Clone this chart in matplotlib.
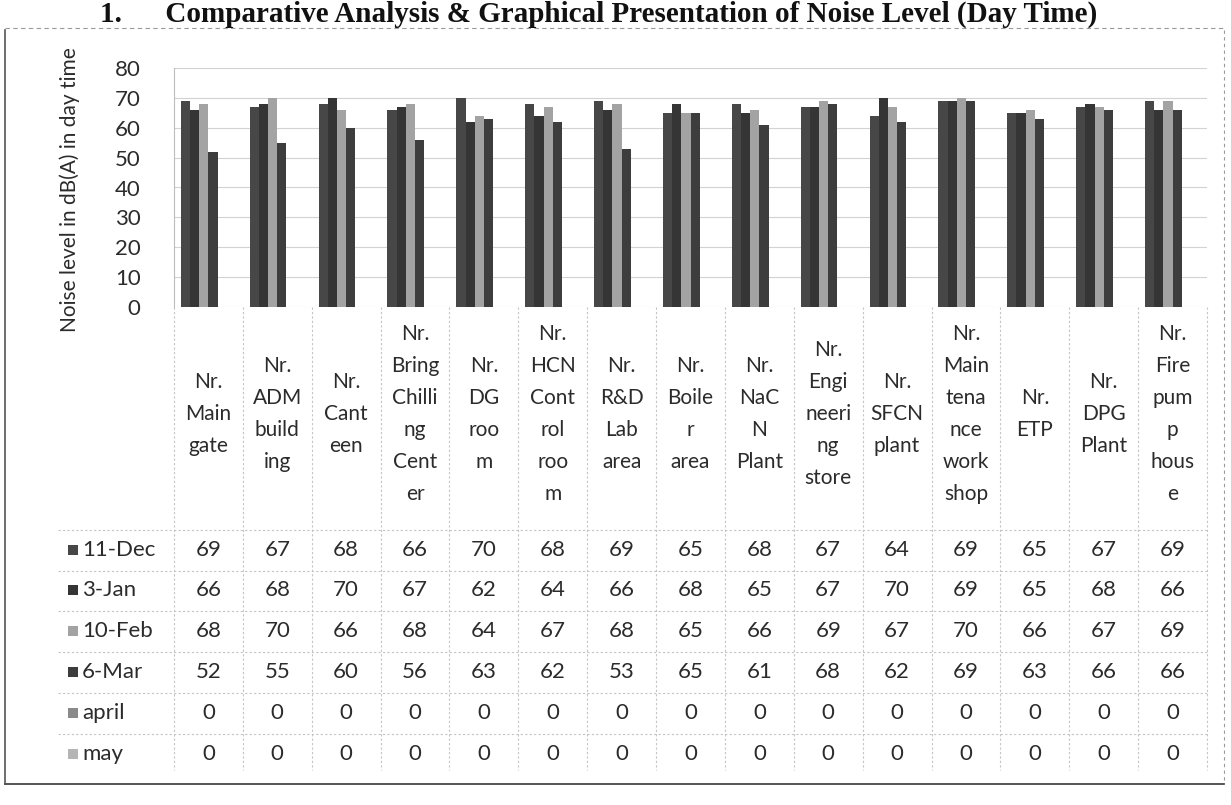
import matplotlib
matplotlib.use("Agg")
import matplotlib.pyplot as plt
from matplotlib.transforms import blended_transform_factory
from matplotlib.patches import Rectangle
import numpy as np

# ---- data -------------------------------------------------------------
locations = [
    "Nr.\nMain\ngate", "Nr.\nADM\nbuild\ning", "Nr.\nCant\neen",
    "Nr.\nBring\nChilli\nng\nCent\ner", "Nr.\nDG\nroo\nm",
    "Nr.\nHCN\nCont\nrol\nroo\nm", "Nr.\nR&D\nLab\narea",
    "Nr.\nBoile\nr\narea", "Nr.\nNaC\nN\nPlant",
    "Nr.\nEngi\nneeri\nng\nstore", "Nr.\nSFCN\nplant",
    "Nr.\nMain\ntena\nnce\nwork\nshop", "Nr.\nETP", "Nr.\nDPG\nPlant",
    "Nr.\nFire\npum\np\nhous\ne",
]
series_names = ["11-Dec", "3-Jan", "10-Feb", "6-Mar", "april", "may"]
dec_11 = [69, 67, 68, 66, 70, 68, 69, 65, 68, 67, 64, 69, 65, 67, 69]
jan_3 = [66, 68, 70, 67, 62, 64, 66, 68, 65, 67, 70, 69, 65, 68, 66]
feb_10 = [68, 70, 66, 68, 64, 67, 68, 65, 66, 69, 67, 70, 66, 67, 69]
mar_6 = [52, 55, 60, 56, 63, 62, 53, 65, 61, 68, 62, 69, 63, 66, 66]
april = [0] * 15
may = [0] * 15
series_values = [dec_11, jan_3, feb_10, mar_6, april, may]
y_ticks = [0, 10, 20, 30, 40, 50, 60, 70, 80]

title = "1.      Comparative Analysis & Graphical Presentation of Noise Level (Day Time)"
y_label = "Noise level in dB(A) in day time"

# ---- styling ----------------------------------------------------------
bar_colors = ["#474747", "#353535", "#a3a3a3", "#3d3d3d", "#8a8a8a", "#b5b5b5"]
text_color = "#2b2b2b"
font = "Lato"

W, H = 1231, 805
fig = plt.figure(figsize=(W / 100, H / 100), dpi=100)
fig.patch.set_facecolor("white")


def fx(px):
    return px / W


def fy(py):
    return 1 - py / H


ax_left, ax_right, ax_top, ax_bottom = 174, 1207, 68, 307
ax = fig.add_axes([fx(ax_left), fy(ax_bottom), fx(ax_right - ax_left),
                   (ax_bottom - ax_top) / H])

n_cat = len(locations)
n_ser = len(series_values)
gap = 1.5
bar_w = 1.0 / (n_ser + gap)
x = np.arange(n_cat)
for k, (vals, col) in enumerate(zip(series_values, bar_colors)):
    offs = -0.5 + (gap / 2 + k + 0.5) * bar_w
    ax.bar(x + offs, vals, width=bar_w, color=col, edgecolor="none", zorder=3)

ax.set_xlim(-0.5, n_cat - 0.5)
ax.set_ylim(0, 80)
ax.set_yticks(y_ticks)
ax.set_yticklabels([str(t) for t in y_ticks], fontsize=16, family=font,
                   color=text_color)
ax.tick_params(axis="y", length=0, pad=24)
ax.set_xticks([])
for side in ["top", "right", "bottom"]:
    ax.spines[side].set_visible(False)
ax.spines["left"].set_color("#bdbdbd")
ax.spines["left"].set_linewidth(0.8)
ax.yaxis.grid(True, color="#d2d2d2", linewidth=0.8, zorder=0)
ax.set_axisbelow(True)

fig.text(fx(70), fy(190), y_label, rotation=90, ha="center", va="center",
         fontsize=15, family=font, color=text_color)

# ---- data table under the plot ---------------------------------------
tr = blended_transform_factory(ax.transData, fig.transFigure)
header_mid = 414
row_y = [550, 590, 631, 672, 713, 754]
table_bottom = 776
grid_kw = dict(color="#c4c4c4", linewidth=0.8, linestyle=(0, (2, 2)))

for i, lab in enumerate(locations):
    fig.text(i, fy(header_mid), lab, transform=tr, ha="center", va="center",
             multialignment="center", fontsize=15, family=font,
             color=text_color, linespacing=1.75)

for r, (name, vals, col) in enumerate(zip(series_names, series_values,
                                          bar_colors)):
    yy = fy(row_y[r])
    for i, v in enumerate(vals):
        fig.text(i, yy, str(v), transform=tr, ha="center", va="center",
                 fontsize=16, family=font, color=text_color)
    fig.patches.append(Rectangle((fx(68), yy - 5 / H), 10 / W, 10 / H,
                                 transform=fig.transFigure, facecolor=col,
                                 edgecolor="none"))
    fig.text(fx(82), yy, name, ha="left", va="center", fontsize=16,
             family=font, color=text_color)

# column separators
for i in range(n_cat + 1):
    fig.add_artist(plt.Line2D([i - 0.5, i - 0.5],
                              [fy(ax_bottom), fy(table_bottom - 6)],
                              transform=tr, **grid_kw))
# row separators
row_edges = [row_y[0] - 20.5] + [y + 20.5 for y in row_y[:-1]]
for e in row_edges:
    fig.add_artist(plt.Line2D([fx(58), fx(ax_right)], [fy(e), fy(e)],
                              transform=fig.transFigure, **grid_kw))

# ---- outer frame and heading -----------------------------------------
fig.add_artist(plt.Line2D([fx(5), fx(5)], [fy(30), fy(table_bottom + 8)],
                          transform=fig.transFigure, color="#555555",
                          linewidth=1.2))
fig.add_artist(plt.Line2D([fx(5), fx(1224)],
                          [fy(table_bottom + 8), fy(table_bottom + 8)],
                          transform=fig.transFigure, color="#555555",
                          linewidth=1.4))
fig.add_artist(plt.Line2D([fx(1224), fx(1224)], [fy(30), fy(table_bottom + 8)],
                          transform=fig.transFigure, color="#9a9a9a",
                          linewidth=0.8, linestyle=(0, (3, 3))))
fig.add_artist(plt.Line2D([fx(5), fx(1224)], [fy(28), fy(28)],
                          transform=fig.transFigure, color="#9a9a9a",
                          linewidth=0.8, linestyle=(0, (4, 3))))

fig.text(fx(100), fy(14), title, ha="left", va="center", fontsize=21,
         family="Liberation Serif", weight="bold", color="#111111")

fig.savefig("out.png", dpi=100)
